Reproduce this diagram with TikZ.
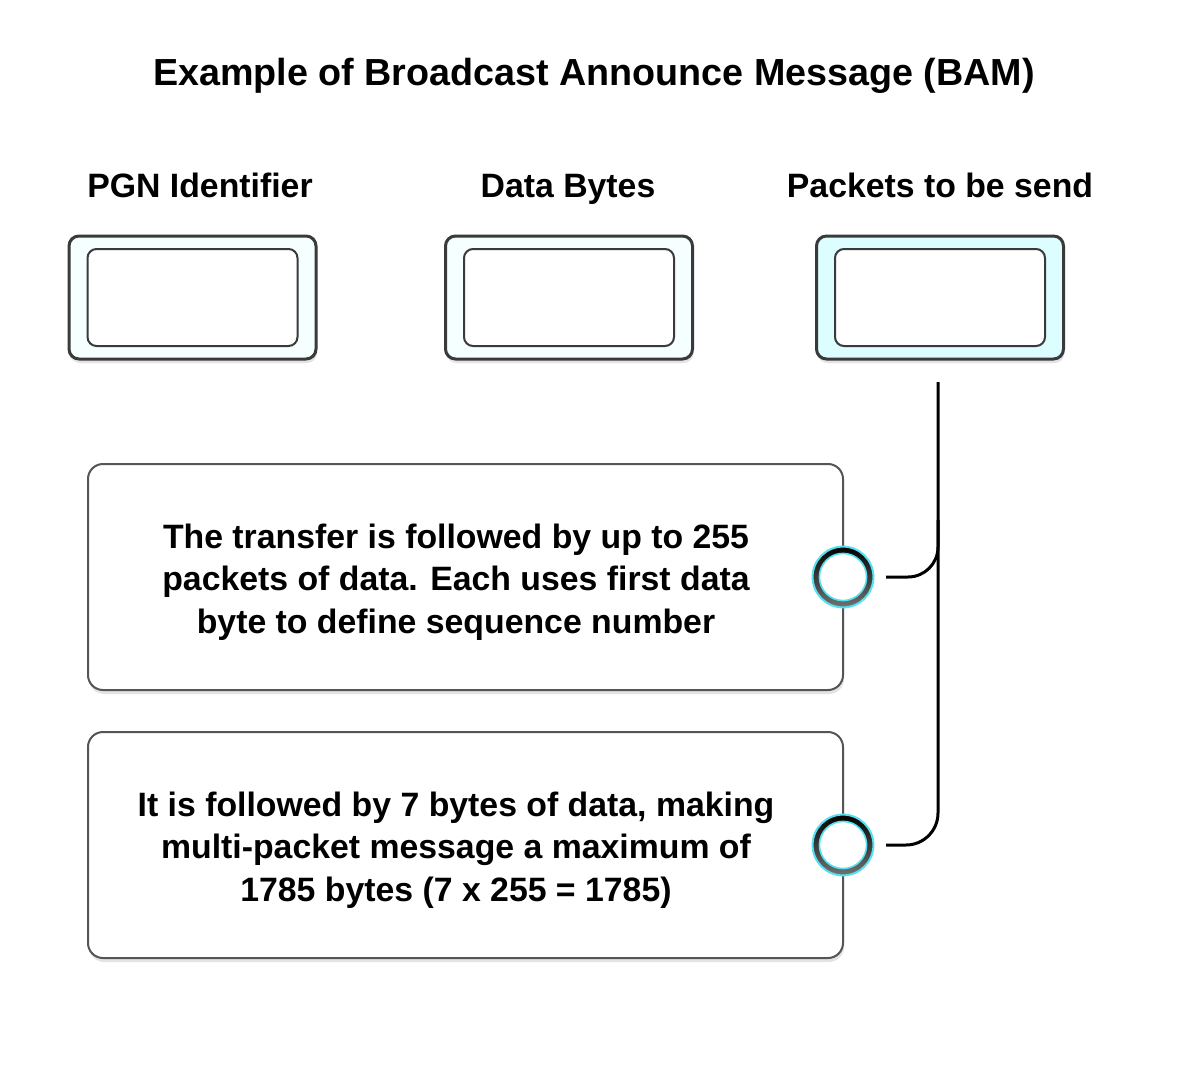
\documentclass[tikz,border=0pt]{standalone}
\usepackage{fontspec}
\setmainfont{Liberation Sans}
\usetikzlibrary{shadows}
\definecolor{boxline}{HTML}{3A3A3A}
\definecolor{bigline}{HTML}{555555}
\definecolor{paleA}{HTML}{F6FFFF}
\definecolor{paleB}{HTML}{DCFEFE}
\definecolor{glow}{HTML}{55E0F0}
\tikzset{
  outerbox/.style={draw=boxline, line width=3pt, rounded corners=10pt,
    minimum width=247pt, minimum height=123pt, inner sep=0pt,
    drop shadow={opacity=0.22, shadow xshift=1pt, shadow yshift=-4pt}},
  innerbox/.style={draw=boxline, line width=2pt, rounded corners=9pt, fill=white,
    minimum width=210pt, minimum height=97pt, inner sep=0pt},
  bigbox/.style={draw=bigline, line width=2pt, rounded corners=15pt, fill=white,
    minimum width=755pt, minimum height=226pt, inner sep=0pt,
    drop shadow={opacity=0.22, shadow xshift=1pt, shadow yshift=-4pt}},
  lbl/.style={font=\bfseries\fontsize{33.8pt}{38pt}\selectfont, anchor=base, inner sep=0pt},
  body/.style={font=\bfseries\fontsize{33.8pt}{42.5pt}\selectfont, align=center, inner sep=0pt},
  conn/.style={draw=black, line width=3pt},
}
\newcommand{\ringat}[2]{%
  \fill[white] (#1) circle (31pt);
  \begin{scope}[even odd rule]
    \clip (#1) circle (30pt) (#1) circle (23.8pt);
    \shade[top color=black, middle color=black, bottom color=black!55]
       (#1) ++(-31,-31) rectangle ++(62,62);
  \end{scope}
  \draw[glow, line width=2pt] (#1) circle (30.4pt);
  \draw[glow, line width=1.6pt] (#1) circle (23.6pt);
  \node[circle, minimum size=62pt, inner sep=0pt] (#2) at (#1) {};
}
\begin{document}
\begin{tikzpicture}[x=1pt, y=-1pt]
\useasboundingbox[fill=white] (0,0) rectangle (1188,1078);

\node[anchor=base, inner sep=0pt, font=\bfseries\fontsize{37.7pt}{42pt}\selectfont] (title) at (594,86)
  {Example of Broadcast Announce Message (BAM)};

\node[lbl] (l1) at (200,198) {PGN Identifier};
\node[lbl] (l2) at (568,198) {Data Bytes};
\node[lbl] (l3) at (940,198) {Packets to be send};

\node[outerbox, fill=paleA] (b1) at (192.5,297.5) {};
\node[innerbox] (i1) at (b1.center) {};
\node[outerbox, fill=paleA] (b2) at (569,297.5) {};
\node[innerbox] (i2) at (b2.center) {};
\node[outerbox, fill=paleB] (b3) at (940,297.5) {};
\node[innerbox] (i3) at (b3.center) {};

\node[bigbox] (bA) at (465.5,577) {};
\node[bigbox] (bB) at (465.5,845) {};

\node[body] (tA) at (456,582) {The transfer is followed by up to 255\\packets of data. Each uses first data\\byte to define sequence number};
\node[body] (tB) at (456,850) {It is followed by 7 bytes of data, making\\multi-packet message a maximum of\\1785 bytes (7 x 255 = 1785)};

\coordinate (cA) at (843,577);
\coordinate (cB) at (843,845);
\ringat{cA}{rA}
\ringat{cB}{rB}

\coordinate (vtop) at (938,382);
\coordinate (vmid) at (938,520);
\coordinate (eA) at (886,577);
\coordinate (eB) at (886,845);
\draw[conn, rounded corners=32pt] (vtop) |- (eB);
\draw[conn, rounded corners=30pt] (vmid) |- (eA);
\end{tikzpicture}
\end{document}
